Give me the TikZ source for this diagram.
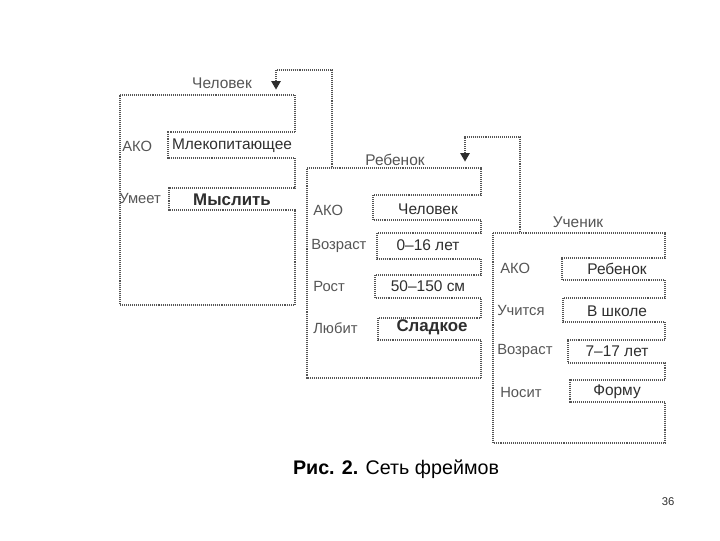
\documentclass[tikz,border=0pt]{standalone}
\usepackage{fontspec}
\setmainfont{Liberation Sans}
\usetikzlibrary{positioning,calc,shapes.geometric}
\definecolor{scanink}{HTML}{2E2E2E}
\definecolor{scangrey}{HTML}{555555}
\tikzset{
  frm/.style={draw=scangrey, line width=0.75pt, dash pattern=on 0.6pt off 0.8pt},
  link/.style={frm},
  slot/.style={font=\fontsize{10.5}{12}\selectfont, color=scangrey, anchor=west, inner sep=0pt},
  val/.style={font=\fontsize{11}{12}\selectfont, color=scanink, inner sep=0pt},
  ttl/.style={val, color=scangrey},
  akotri/.style={isosceles triangle, shape border rotate=270, isosceles triangle apex angle=60,
    fill=scanink, inner sep=0pt, minimum width=2.4mm, minimum height=2mm},
}

\begin{document}
\begin{tikzpicture}[x=0.025cm, y=-0.025cm]
  \useasboundingbox (0,0) rectangle (720,540);

  % frame: Человек
  \draw[frm] (120,95) -- (295,95) -- (295,132) -- (168,132) -- (168,158) -- (295,158)
    -- (295,188) -- (169,188) -- (169,210) -- (295,210) -- (295,305) -- (120,305) -- cycle;
  \node[ttl] (chel) at (222,83) {Человек};
  \node[akotri] (chelTri) at (276,84) {};
  \node[slot] (chelAko) at (122,146) {АКО};
  \node[val] (chelAkoV) at (232,146) {Млекопитающее};
  \node[slot] (chelUm) at (119,198) {Умеет};
  \node[val, font=\fontsize{12}{13}\selectfont\bfseries] (chelUmV) at (232,200) {Мыслить};

  % frame: Ребенок
  \draw[frm] (307,168) -- (481,168) -- (481,195) -- (373,195) -- (373,220) -- (481,220)
    -- (481,233) -- (377,233) -- (377,259) -- (481,259) -- (481,275) -- (375,275) -- (375,298)
    -- (481,298) -- (481,318) -- (378,318) -- (378,340) -- (481,340) -- (481,378) -- (307,378) -- cycle;
  \node[ttl] (reb) at (395,160) {Ребенок};
  \node[akotri] (rebTri) at (465,156) {};
  \node[slot] (rebAko) at (313,210) {АКО};
  \node[val] (rebAkoV) at (428,209) {Человек};
  \node[slot] (rebVoz) at (311,246) {Возраст};
  \node[val] (rebVozV) at (428,245) {0–16 лет};
  \node[slot] (rebRost) at (313,286) {Рост};
  \node[val] (rebRostV) at (428,286) {50–150 см};
  \node[slot] (rebLub) at (313,328) {Любит};
  \node[val, font=\fontsize{12}{13}\selectfont\bfseries] (rebLubV) at (432,327) {Сладкое};

  % frame: Ученик
  \draw[frm] (493,233) -- (665,233) -- (665,258) -- (562,258) -- (562,280) -- (665,280)
    -- (665,298) -- (563,298) -- (563,322) -- (665,322) -- (665,340) -- (568,340) -- (568,363)
    -- (665,363) -- (665,380) -- (570,380) -- (570,402) -- (665,402) -- (665,443) -- (493,443) -- cycle;
  \node[ttl] (uch) at (578,222) {Ученик};
  \node[slot] (uchAko) at (500,268) {АКО};
  \node[val] (uchAkoV) at (617,269) {Ребенок};
  \node[slot] (uchUch) at (497,310) {Учится};
  \node[val] (uchUchV) at (617,311) {В школе};
  \node[slot] (uchVoz) at (497,351) {Возраст};
  \node[val] (uchVozV) at (617,351) {7–17 лет};
  \node[slot] (uchNos) at (500,392) {Носит};
  \node[val] (uchNosV) at (617,392) {Форму};

  % AKO links
  \coordinate (rebTop) at (332,168);
  \coordinate (uchTop) at (520,233);
  \draw[link] (chelTri.north) |- ($(rebTop)+(0,-98)$) -- (rebTop);
  \draw[link] (rebTri.north) |- ($(uchTop)+(0,-96)$) -- (uchTop);

  \node[font=\fontsize{14}{16}\selectfont, color=black] (cap) at (396,469) {\textbf{Рис. 2.} Сеть фреймов};
  \node[font=\fontsize{8}{9}\selectfont, color=scanink] (pg) at (668,502) {36};
\end{tikzpicture}
\end{document}
